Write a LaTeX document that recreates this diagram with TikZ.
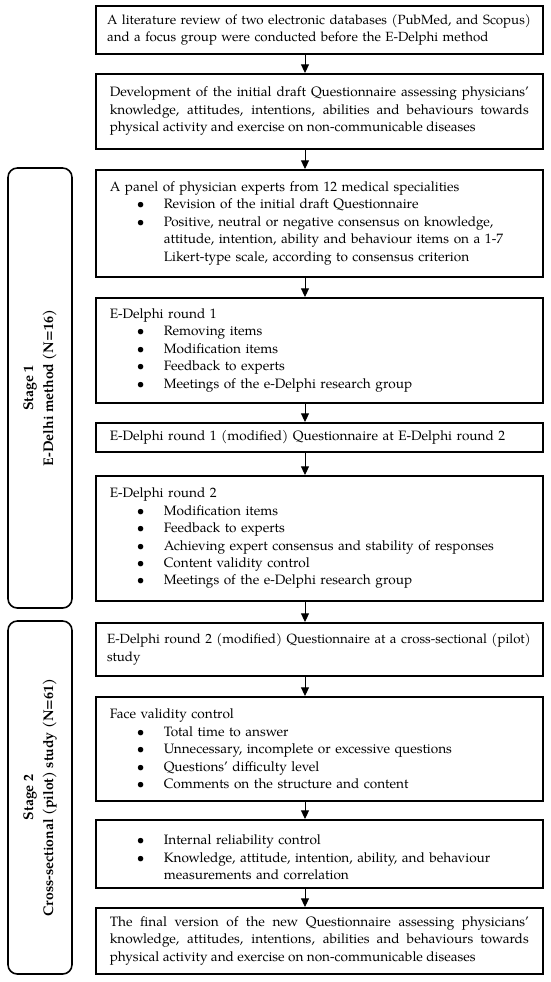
\documentclass[tikz,border=0pt]{standalone}
\usepackage{fontspec}
\setmainfont{TeX Gyre Pagella}
\usetikzlibrary{arrows.meta}
\newcommand{\bitem}[1]{\par\hangindent=40.5pt\hangafter=1\noindent\hspace*{20.25pt}\makebox[20.25pt][l]{\textbullet}#1\par}
\newcommand{\boxfont}{\fontsize{10.2}{13.1}\selectfont\hyphenpenalty=10000\relax\exhyphenpenalty=10000\relax}
\newcommand{\tightfont}{\fontsize{10}{13.1}\selectfont\hyphenpenalty=10000\relax\exhyphenpenalty=10000\relax}
\tikzset{
  box/.style={draw, line width=1.2pt, anchor=north west, minimum width=335.25pt,
    inner xsep=10.5pt, inner ysep=2pt, text width=314.25pt, align=left,
    font=\boxfont},
  jbox/.style={box, align=justify},
  tbox/.style={box, inner xsep=8.5pt, text width=318.25pt, font=\tightfont},
  stagebox/.style={draw, line width=1.2pt, rounded corners=7pt, rotate=90,
    minimum height=48pt, align=center, inner sep=2pt,
    font=\fontsize{10.5}{15}\selectfont\bfseries},
  arr/.style={line width=0.7pt, -{Triangle[width=6pt,length=6.5pt]}}
}
\begin{document}
\begin{tikzpicture}[x=0.75pt,y=-0.75pt]
\useasboundingbox (0,0) rectangle (550,982);
\coordinate (ax) at (305,0);
\node[tbox, minimum height=36pt] (b1) at (95,5) {A literature review of two electronic databases (PubMed, and Scopus)\\and a focus group were conducted before the E-Delphi method};
\node[jbox, minimum height=56.25pt] (b2) at (95,73) {Development of the initial draft Questionnaire assessing physicians' knowledge, attitudes, intentions, abilities and behaviours towards physical activity and exercise on non-communicable diseases};
\node[box, minimum height=80.25pt] (b3) at (95,169) {A panel of physician experts from 12 medical specialities
\bitem{Revision of the initial draft Questionnaire}
\bitem{Positive, neutral or negative consensus on knowledge, attitude, intention, ability and behaviour items on a 1-7 Likert-type scale, according to consensus criterion}};
\node[box, minimum height=78.75pt] (b4) at (95,297) {E-Delphi round 1
\bitem{Removing items}
\bitem{Modification items}
\bitem{Feedback to experts}
\bitem{Meetings of the e-Delphi research group}};
\node[box, minimum height=21.75pt] (b5) at (95,422) {E-Delphi round 1 (modified) Questionnaire at E-Delphi round 2};
\node[box, minimum height=93.75pt] (b6) at (95,475) {E-Delphi round 2
\bitem{Modification items}
\bitem{Feedback to experts}
\bitem{Achieving expert consensus and stability of responses}
\bitem{Content validity control}
\bitem{Meetings of the e-Delphi research group}};
\node[tbox, minimum height=39.75pt] (b7) at (95,622) {E-Delphi round 2 (modified) Questionnaire at a cross-sectional (pilot)\\study};
\node[box, minimum height=78pt] (b8) at (95,696) {Face validity control
\bitem{Total time to answer}
\bitem{Unnecessary, incomplete or excessive questions}
\bitem{Questions' difficulty level}
\bitem{Comments on the structure and content}};
\node[box, minimum height=51pt] (b9) at (95,819) {\bitem{Internal reliability control}
\bitem{Knowledge, attitude, intention, ability, and behaviour measurements and correlation}};
\node[jbox, minimum height=49.5pt] (b10) at (95,907) {The final version of the new Questionnaire assessing physicians' knowledge, attitudes, intentions, abilities and behaviours towards physical activity and exercise on non-communicable diseases};
\node[stagebox, minimum width=330pt] (s1) at (40,388) {Stage 1\\E-Delhi method (N=16)};
\node[stagebox, minimum width=264.75pt] (s2) at (40,797.5) {Stage 2\\Cross-sectional (pilot) study (N=61)};
\foreach \a/\b in {b1/b2,b2/b3,b3/b4,b4/b5,b5/b6,b6/b7,b7/b8,b8/b9,b9/b10}
  \draw[arr] (\a.south -| ax) -- (\b.north -| ax);
\end{tikzpicture}
\end{document}
